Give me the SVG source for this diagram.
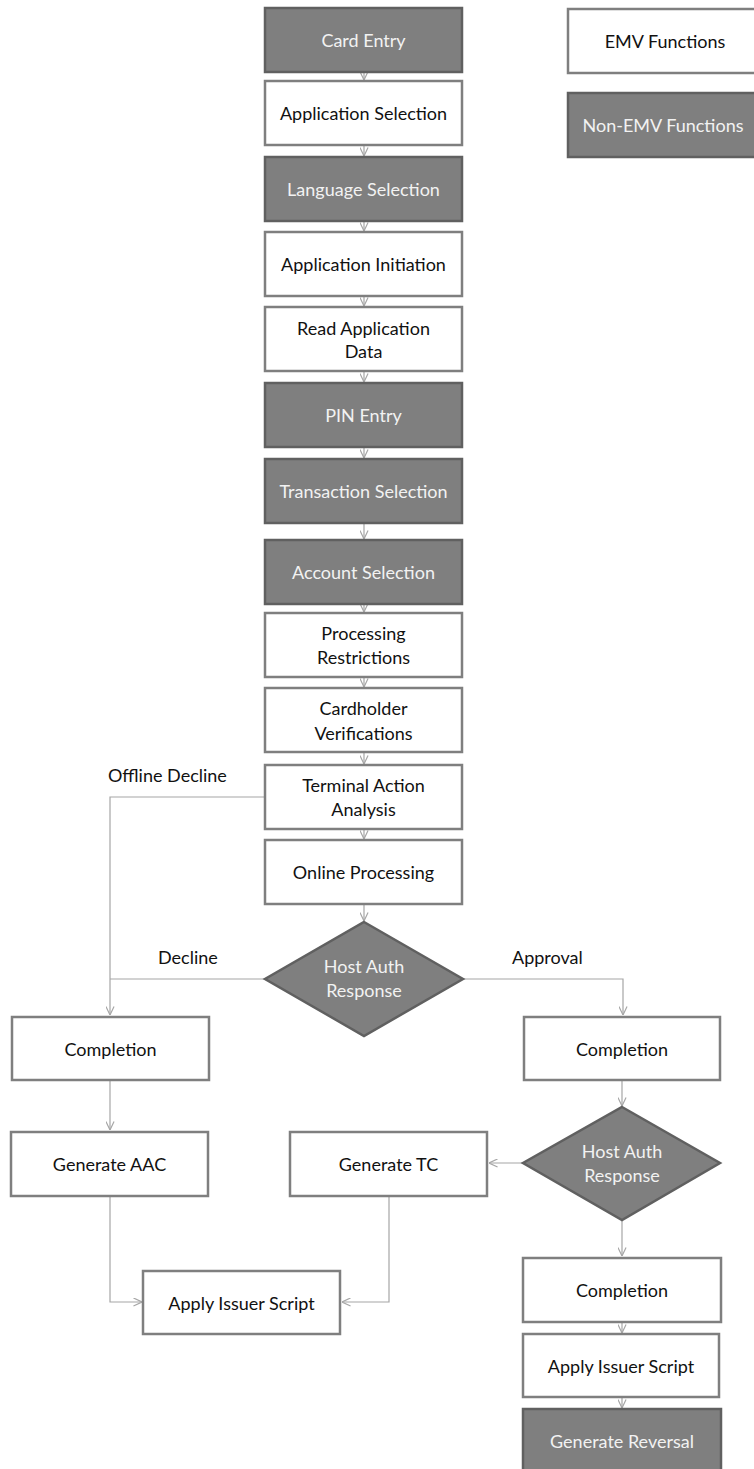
<svg xmlns="http://www.w3.org/2000/svg" width="754" height="1469" viewBox="0 0 754 1469">
  <defs>
    <style>
      .box { fill: #ffffff; stroke: #7f7f7f; stroke-width: 2.5; }
      .dark { fill: #7f7f7f; stroke: #606060; stroke-width: 2.5; }
      .t { font-family: Lato, "Liberation Sans", sans-serif; font-size: 18px; fill: #111111; text-anchor: middle; }
      .tl { font-family: Lato, "Liberation Sans", sans-serif; font-size: 18px; fill: #f2f2f2; text-anchor: middle; }
      .lbl { font-family: Lato, "Liberation Sans", sans-serif; font-size: 18px; fill: #111111; }
      .edge { fill: none; stroke: #a6a6a6; stroke-width: 1.2; }
    </style>
    <marker id="arrow" viewBox="0 0 10 10" refX="9.5" refY="5" markerWidth="9" markerHeight="9" markerUnits="userSpaceOnUse" orient="auto">
      <path d="M0,0.5 L9.5,5 L0,9.5" fill="none" stroke="#a6a6a6" stroke-width="1.3"/>
    </marker>
  </defs>

  <rect width="754" height="1469" fill="#ffffff"/>

  <!-- connectors -->
  <g id="connectors">
    <path class="edge" d="M364,73 V80" marker-end="url(#arrow)"/>
    <path class="edge" d="M364,146 V156" marker-end="url(#arrow)"/>
    <path class="edge" d="M364,222 V231" marker-end="url(#arrow)"/>
    <path class="edge" d="M364,297 V306" marker-end="url(#arrow)"/>
    <path class="edge" d="M364,372 V382" marker-end="url(#arrow)"/>
    <path class="edge" d="M364,448 V458" marker-end="url(#arrow)"/>
    <path class="edge" d="M364,524 V539" marker-end="url(#arrow)"/>
    <path class="edge" d="M364,605 V612" marker-end="url(#arrow)"/>
    <path class="edge" d="M364,678 V687" marker-end="url(#arrow)"/>
    <path class="edge" d="M364,753 V764" marker-end="url(#arrow)"/>
    <path class="edge" d="M364,830 V839" marker-end="url(#arrow)"/>
    <path class="edge" d="M364,905 V921" marker-end="url(#arrow)"/>
    <!-- offline decline branch -->
    <path class="edge" d="M265,797 H110 V1015" marker-end="url(#arrow)"/>
    <path class="edge" d="M265,979 H110"/>
    <!-- approval branch -->
    <path class="edge" d="M463,979 H623 V1015" marker-end="url(#arrow)"/>
    <path class="edge" d="M110,1081 V1130" marker-end="url(#arrow)"/>
    <path class="edge" d="M622,1081 V1106" marker-end="url(#arrow)"/>
    <path class="edge" d="M523,1163 H489" marker-end="url(#arrow)"/>
    <path class="edge" d="M622,1220 V1256" marker-end="url(#arrow)"/>
    <path class="edge" d="M622,1323 V1333" marker-end="url(#arrow)"/>
    <path class="edge" d="M622,1398 V1408" marker-end="url(#arrow)"/>
    <path class="edge" d="M110,1197 V1302 H142" marker-end="url(#arrow)"/>
    <path class="edge" d="M389,1197 V1302 H342" marker-end="url(#arrow)"/>
  </g>

  <!-- edge labels -->
  <g id="edge-labels">
    <text class="lbl" x="108" y="782">Offline Decline</text>
    <text class="lbl" x="158" y="964">Decline</text>
    <text class="lbl" x="512" y="964">Approval</text>
  </g>

  <!-- legend -->
  <g id="legend-emv">
    <rect class="box" x="568" y="9" width="198" height="64"/>
    <text class="t" x="665" y="48">EMV Functions</text>
  </g>
  <g id="legend-non-emv">
    <rect class="dark" x="568" y="93" width="198" height="64"/>
    <text class="tl" x="663" y="132">Non-EMV Functions</text>
  </g>

  <!-- main column -->
  <g id="card-entry">
    <rect class="dark" x="265" y="8" width="197" height="64"/>
    <text class="tl" x="363.5" y="47">Card Entry</text>
  </g>
  <g id="application-selection">
    <rect class="box" x="265" y="81" width="197" height="64"/>
    <text class="t" x="363.5" y="120">Application Selection</text>
  </g>
  <g id="language-selection">
    <rect class="dark" x="265" y="157" width="197" height="64"/>
    <text class="tl" x="363.5" y="196">Language Selection</text>
  </g>
  <g id="application-initiation">
    <rect class="box" x="265" y="232" width="197" height="64"/>
    <text class="t" x="363.5" y="271">Application Initiation</text>
  </g>
  <g id="read-application-data">
    <rect class="box" x="265" y="307" width="197" height="64"/>
    <text class="t" x="363.5" y="335">Read Application</text>
    <text class="t" x="363.5" y="358">Data</text>
  </g>
  <g id="pin-entry">
    <rect class="dark" x="265" y="383" width="197" height="64"/>
    <text class="tl" x="363.5" y="422">PIN Entry</text>
  </g>
  <g id="transaction-selection">
    <rect class="dark" x="265" y="459" width="197" height="64"/>
    <text class="tl" x="363.5" y="498">Transaction Selection</text>
  </g>
  <g id="account-selection">
    <rect class="dark" x="265" y="540" width="197" height="64"/>
    <text class="tl" x="363.5" y="579">Account Selection</text>
  </g>
  <g id="processing-restrictions">
    <rect class="box" x="265" y="613" width="197" height="64"/>
    <text class="t" x="363.5" y="640">Processing</text>
    <text class="t" x="363.5" y="664">Restrictions</text>
  </g>
  <g id="cardholder-verifications">
    <rect class="box" x="265" y="688" width="197" height="64"/>
    <text class="t" x="363.5" y="715">Cardholder</text>
    <text class="t" x="363.5" y="740">Verifications</text>
  </g>
  <g id="terminal-action-analysis">
    <rect class="box" x="265" y="765" width="197" height="64"/>
    <text class="t" x="363.5" y="792">Terminal Action</text>
    <text class="t" x="363.5" y="816">Analysis</text>
  </g>
  <g id="online-processing">
    <rect class="box" x="265" y="840" width="197" height="64"/>
    <text class="t" x="363.5" y="879">Online Processing</text>
  </g>
  <g id="host-auth-response-1">
    <polygon class="dark" points="364,922 463,979 364,1036 265,979"/>
    <text class="tl" x="364" y="973">Host Auth</text>
    <text class="tl" x="364" y="997">Response</text>
  </g>

  <!-- decline side -->
  <g id="completion-decline">
    <rect class="box" x="12" y="1017" width="197" height="63"/>
    <text class="t" x="110.5" y="1056">Completion</text>
  </g>
  <g id="generate-aac">
    <rect class="box" x="11" y="1132" width="197" height="64"/>
    <text class="t" x="109.5" y="1171">Generate AAC</text>
  </g>
  <g id="apply-issuer-script-left">
    <rect class="box" x="143" y="1271" width="197" height="63"/>
    <text class="t" x="241.5" y="1310">Apply Issuer Script</text>
  </g>
  <g id="generate-tc">
    <rect class="box" x="290" y="1132" width="197" height="64"/>
    <text class="t" x="388.5" y="1171">Generate TC</text>
  </g>

  <!-- approval side -->
  <g id="completion-approval">
    <rect class="box" x="524" y="1017" width="196" height="63"/>
    <text class="t" x="622" y="1056">Completion</text>
  </g>
  <g id="host-auth-response-2">
    <polygon class="dark" points="622,1107 720,1163 622,1220 523,1163"/>
    <text class="tl" x="622" y="1158">Host Auth</text>
    <text class="tl" x="622" y="1182">Response</text>
  </g>
  <g id="completion-final">
    <rect class="box" x="523" y="1258" width="198" height="64"/>
    <text class="t" x="622" y="1297">Completion</text>
  </g>
  <g id="apply-issuer-script-right">
    <rect class="box" x="523" y="1334" width="196" height="63"/>
    <text class="t" x="621" y="1373">Apply Issuer Script</text>
  </g>
  <g id="generate-reversal">
    <rect class="dark" x="523" y="1409" width="198" height="64"/>
    <text class="tl" x="622" y="1448">Generate Reversal</text>
  </g>
</svg>
